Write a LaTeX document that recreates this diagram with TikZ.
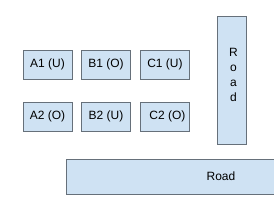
\documentclass[tikz,border=0pt]{standalone}
\usepackage{fontspec}
\setmainfont{Liberation Sans}
\usepackage{xcolor}
\usetikzlibrary{math}
\definecolor{plotfill}{HTML}{CFE2F3}
\definecolor{plotline}{HTML}{66707A}
\tikzset{
plot/.style={draw=plotline,fill=plotfill,line width=0.9pt,minimum width=49pt,minimum height=29pt,inner sep=0pt,font=\fontsize{12}{14}\selectfont},
road/.style={draw=plotline,fill=plotfill,line width=0.9pt,inner sep=0pt,font=\fontsize{12}{14}\selectfont},
}
\begin{document}
\begin{tikzpicture}[x=1pt,y=-1pt]
\tikzmath{
\xa=47.5;
\xb=106;
\xc=165;
\ya=64.5;
\yb=116.5;
}
\useasboundingbox (0,0) rectangle (274,204);
\clip (0,0) rectangle (274,204);

%for the plots
\node[plot] (A1) at (\xa,\ya) {A1 (U)};
\node[plot] (B1) at (\xb,\ya) {B1 (O)};
\node[plot] (C1) at (\xc,\ya) {C1 (U)};
\node[plot] (A2) at (\xa,\yb) {\raisebox{-2pt}{A2 (O)}};
\node[plot] (B2) at (\xb,\yb) {\raisebox{-1pt}{B2 (U)}};
\node[plot] (C2) at (\xc,\yb) {\hspace{5pt}\raisebox{-2pt}{C2 (O)}};

%for the roads
\node[road,minimum width=29pt,minimum height=128pt] (roadv) at (231.5,80) {};
\node[inner sep=0pt,align=center,font=\fontsize{12}{15}\selectfont] (roadvlabel) at (233.5,75) {R\\o\\a\\d};
\node[road,minimum width=310pt,minimum height=35pt] (roadh) at (221,176.5) {Road};
\end{tikzpicture}
\end{document}
